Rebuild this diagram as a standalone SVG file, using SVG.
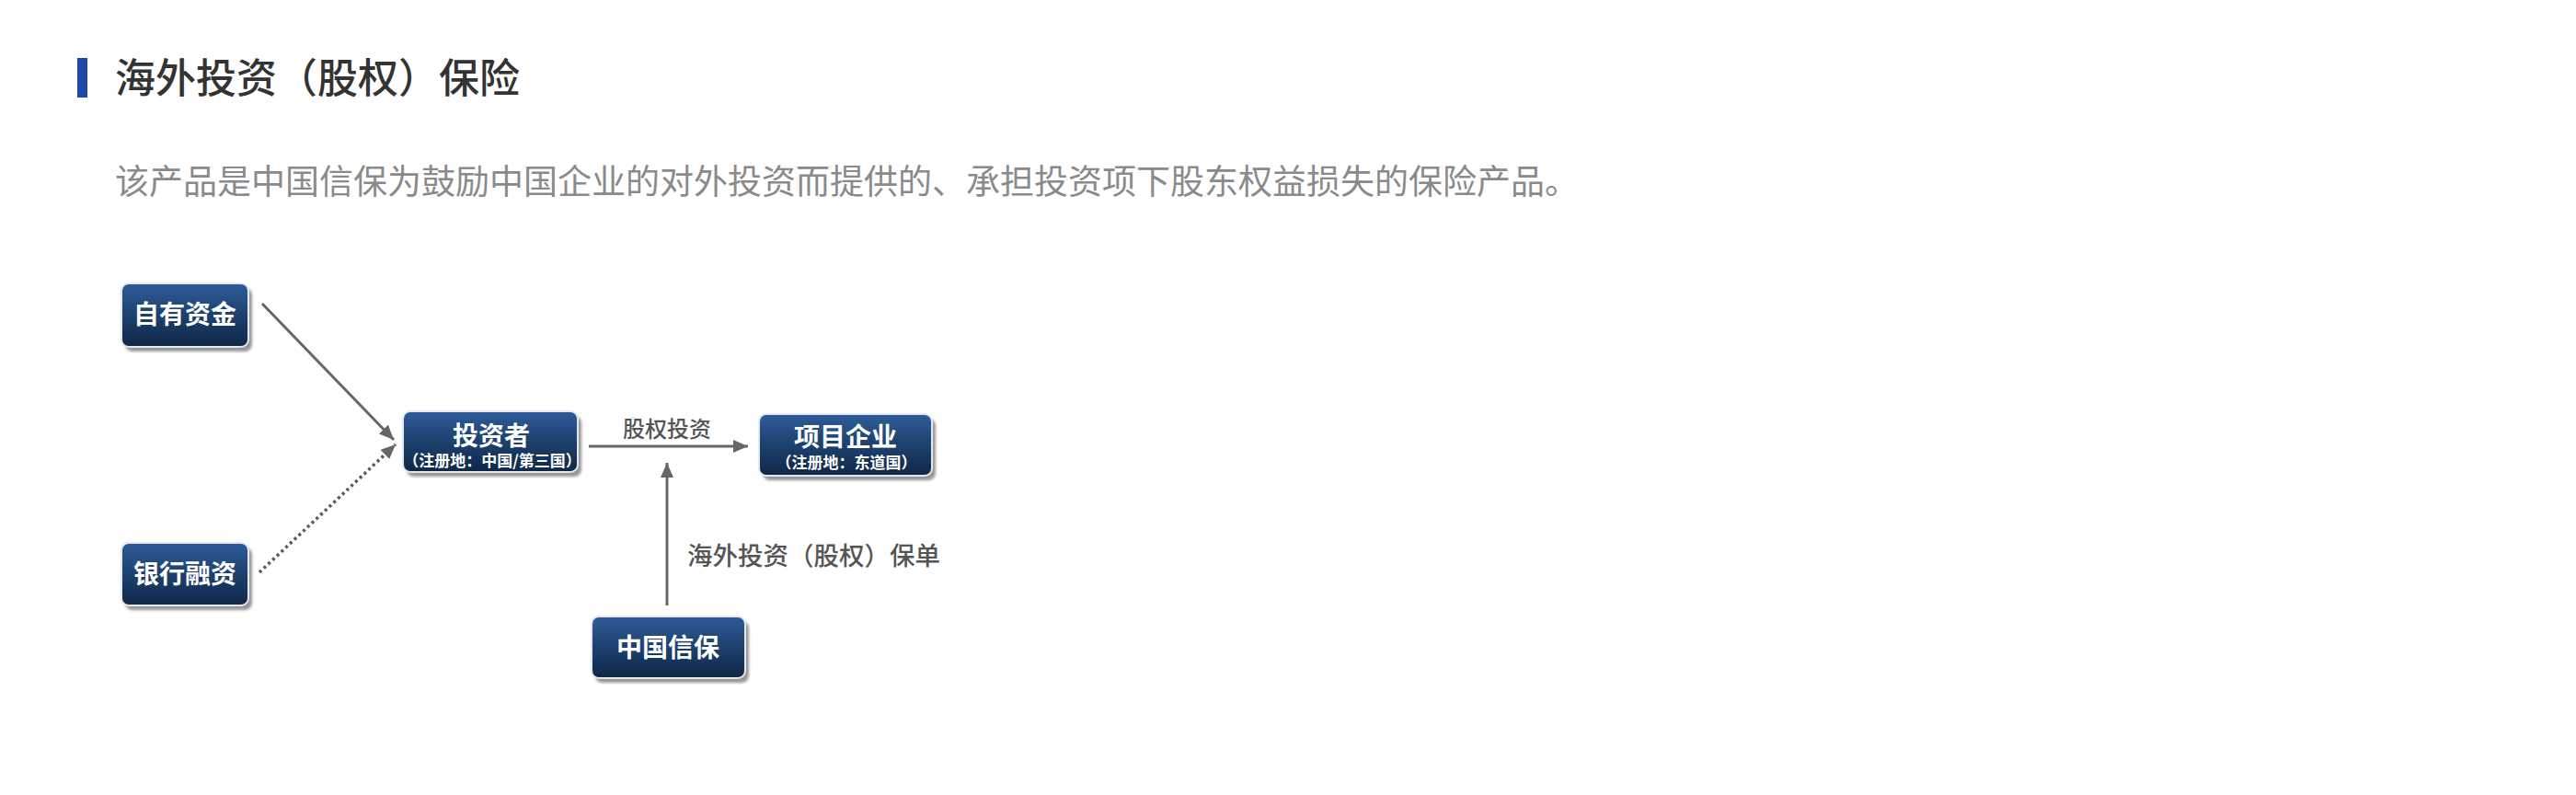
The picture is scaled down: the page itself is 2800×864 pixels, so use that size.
<svg xmlns="http://www.w3.org/2000/svg" width="2800" height="864" viewBox="0 0 2800 864">
<style>
  .title{font-family:"Noto Sans CJK SC","Noto Sans",sans-serif;font-size:44px;font-weight:500;fill:#333333;}
  .desc{font-family:"Noto Sans CJK SC","Noto Sans",sans-serif;font-size:37px;fill:#8a8a8a;}
  .box{fill:url(#boxGrad);stroke:#e4e9f0;stroke-width:2;}
  .shadow{fill:#8a8a8a;opacity:0.9;}
  .bt{font-family:"Noto Sans CJK SC","Noto Sans",sans-serif;font-weight:bold;font-size:28px;fill:#ffffff;text-anchor:middle;}
  .bs{font-family:"Noto Sans CJK SC","Noto Sans",sans-serif;font-weight:bold;font-size:17px;fill:#ffffff;text-anchor:middle;}
  .lbl{font-family:"Noto Sans CJK SC","Noto Sans",sans-serif;font-size:24px;font-weight:500;fill:#555555;}
  .line{stroke:#666666;stroke-width:3;fill:none;}
  .dot{stroke:#5a5a5a;stroke-width:3.5;fill:none;stroke-dasharray:3 3.5;}
</style>
<defs>
  <linearGradient id="boxGrad" x1="0" y1="0" x2="0" y2="1">
    <stop offset="0" stop-color="#2e5c9a"/>
    <stop offset="0.5" stop-color="#1d416f"/>
    <stop offset="1" stop-color="#0f2746"/>
  </linearGradient>
  <filter id="blur" x="-10%" y="-10%" width="120%" height="130%">
    <feGaussianBlur stdDeviation="1.5"/>
  </filter>
  <marker id="arr" markerUnits="userSpaceOnUse" markerWidth="18" markerHeight="14" refX="16" refY="7" orient="auto">
    <path d="M0,0 L16,7 L0,14 Z" fill="#666666"/>
  </marker>
</defs>
<rect width="2800" height="864" fill="#ffffff"/>

<g id="header">
  <rect x="84" y="63" width="11" height="43" fill="#1f49a6"/>
  <text class="title" x="125" y="101">海外投资（股权）保险</text>
  <text class="desc" x="125" y="211">该产品是中国信保为鼓励中国企业的对外投资而提供的、承担投资项下股东权益损失的保险产品。</text>
</g>

<g id="connectors">
  <line class="line" x1="285" y1="330" x2="428" y2="478" marker-end="url(#arr)"/>
  <line class="dot" x1="282" y1="622" x2="430" y2="483" marker-end="url(#arr)"/>
  <line class="line" x1="640" y1="485" x2="813" y2="485" marker-end="url(#arr)"/>
  <line class="line" x1="725" y1="658" x2="725" y2="503" marker-end="url(#arr)"/>
  <text class="lbl" x="725" y="475" text-anchor="middle">股权投资</text>
  <text class="lbl" x="747" y="614" style="font-size:27.5px">海外投资（股权）保单</text>
</g>

<g id="node-ziyou">
  <rect class="shadow" x="136" y="313" width="138" height="69" rx="8" filter="url(#blur)"/>
  <rect class="box" x="132" y="308" width="138" height="69" rx="8"/>
  <text class="bt" x="201" y="352">自有资金</text>
</g>

<g id="node-yinhang">
  <rect class="shadow" x="136" y="595" width="138" height="68" rx="8" filter="url(#blur)"/>
  <rect class="box" x="132" y="590" width="138" height="68" rx="8"/>
  <text class="bt" x="201" y="634">银行融资</text>
</g>

<g id="node-touzizhe">
  <rect class="shadow" x="442" y="452" width="190" height="66" rx="8" filter="url(#blur)"/>
  <rect class="box" x="438" y="447" width="190" height="66" rx="8"/>
  <text class="bt" x="534" y="484">投资者</text>
  <text class="bs" x="535" y="507">（注册地：中国/第三国）</text>
</g>

<g id="node-xiangmu">
  <rect class="shadow" x="829" y="455" width="188" height="67" rx="8" filter="url(#blur)"/>
  <rect class="box" x="825" y="450" width="188" height="67" rx="8"/>
  <text class="bt" x="919" y="485">项目企业</text>
  <text class="bs" x="920" y="509">（注册地：东道国）</text>
</g>

<g id="node-xinbao">
  <rect class="shadow" x="647" y="675" width="167" height="67" rx="8" filter="url(#blur)"/>
  <rect class="box" x="643" y="670" width="167" height="67" rx="8"/>
  <text class="bt" x="726" y="714">中国信保</text>
</g>
</svg>
